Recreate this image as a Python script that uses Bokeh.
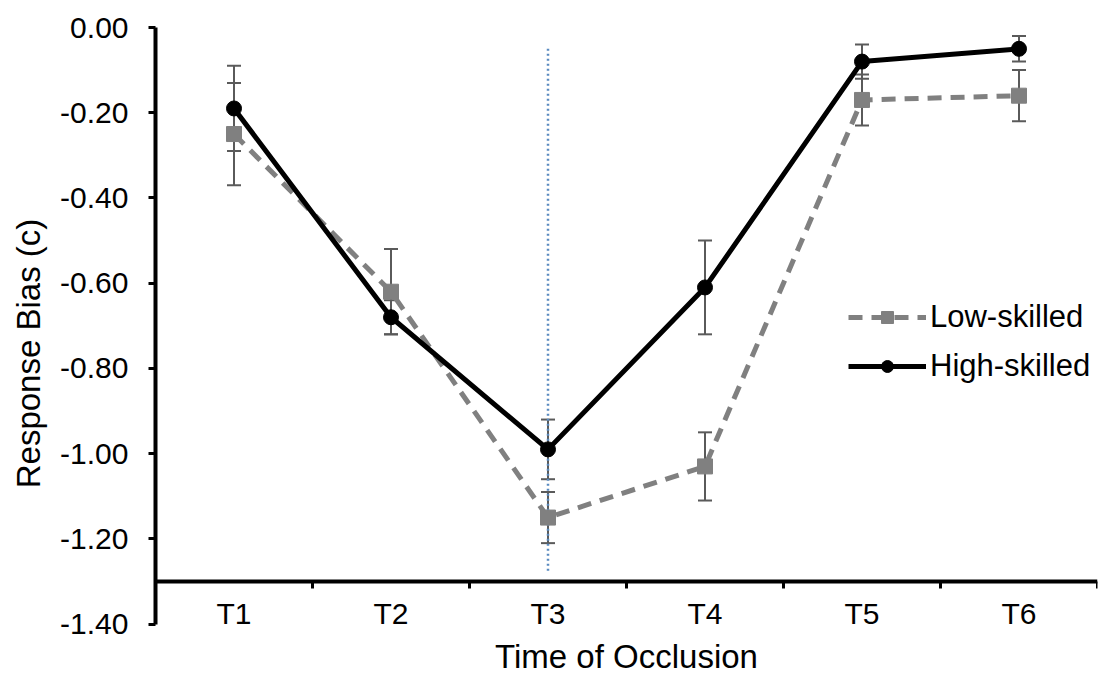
from bokeh.plotting import figure
from bokeh.models import (FixedTicker, NumeralTickFormatter, Whisker, ColumnDataSource,
                          Range1d, Legend, LegendItem, TeeHead)
from bokeh.embed import file_html
from bokeh.resources import INLINE

# ---- data ----
times = ["T1", "T2", "T3", "T4", "T5", "T6"]
low_skilled = [-0.25, -0.62, -1.15, -1.03, -0.17, -0.16]
low_err = [0.12, 0.10, 0.06, 0.08, 0.06, 0.06]
high_skilled = [-0.19, -0.68, -0.99, -0.61, -0.08, -0.05]
high_err = [0.10, 0.04, 0.07, 0.11, 0.04, 0.03]
y_ticks = [0.0, -0.2, -0.4, -0.6, -0.8, -1.0, -1.2, -1.4]
y_min, y_max = -1.4, 0.0
x_axis_crossing = -1.3
occlusion_marker = "T3"
marker_top, marker_bottom = -0.05, -1.28

FONT = "Liberation Sans"
TITLE_PX = 33
Y_FRAME_MIN = -1.53   # frame reaches below -1.4 so the x axis at -1.3 has room for its labels

# category centres on a numeric axis so ticks can sit between categories
xpos = [i + 0.5 for i in range(len(times))]
boundaries = [float(i) for i in range(len(times) + 1)]

low_src = ColumnDataSource(dict(x=xpos, y=low_skilled,
                                lo=[v - e for v, e in zip(low_skilled, low_err)],
                                hi=[v + e for v, e in zip(low_skilled, low_err)]))
high_src = ColumnDataSource(dict(x=xpos, y=high_skilled,
                                 lo=[v - e for v, e in zip(high_skilled, high_err)],
                                 hi=[v + e for v, e in zip(high_skilled, high_err)]))

p = figure(width=1100, height=679, output_backend="svg", toolbar_location=None,
           x_range=Range1d(0, len(times)), y_range=Range1d(Y_FRAME_MIN, y_max),
           min_border_left=155, min_border_right=3, min_border_top=27, min_border_bottom=0)
p.outline_line_color = None
p.xgrid.visible = False
p.ygrid.visible = False

# occlusion marker line
mx = xpos[times.index(occlusion_marker)]
p.segment(x0=[mx], y0=[marker_top], x1=[mx], y1=[marker_bottom],
          line_color="#5A8AC0", line_width=2.5, line_dash="2 3")

# error bars
for src in (low_src, high_src):
    w = Whisker(base="x", upper="hi", lower="lo", source=src,
                line_color="#5a5a5a", line_width=2,
                upper_head=TeeHead(size=14, line_color="#5a5a5a", line_width=2),
                lower_head=TeeHead(size=14, line_color="#5a5a5a", line_width=2))
    p.add_layout(w)

low_line = p.line("x", "y", source=low_src, line_color="#808080", line_width=5, line_dash="14 9")
low_pts = p.scatter("x", "y", source=low_src, marker="square", size=15,
                    fill_color="#808080", line_color="#808080")
high_line = p.line("x", "y", source=high_src, line_color="black", line_width=5)
high_pts = p.scatter("x", "y", source=high_src, marker="circle", size=15,
                     fill_color="black", line_color="black")

# y axis
ya = p.yaxis[0]
ya.bounds = (y_min, y_max)
ya.ticker = FixedTicker(ticks=y_ticks)
ya.formatter = NumeralTickFormatter(format="0.00")
ya.axis_line_width = 4
ya.axis_line_color = "black"
ya.major_tick_line_width = 3
ya.major_tick_out = 7
ya.major_tick_in = 0
ya.minor_tick_line_color = None
ya.major_label_text_font = FONT
ya.major_label_text_font_size = "30px"
ya.major_label_text_color = "black"
ya.major_label_standoff = 20
ya.axis_label = "Response Bias (c)"
ya.axis_label_text_font = FONT
ya.axis_label_text_font_style = "normal"
ya.axis_label_text_font_size = f"{TITLE_PX}px"
ya.axis_label_text_color = "black"
ya.axis_label_standoff = 10

# x axis, crossing the y axis at -1.3
xa = p.xaxis[0]
xa.fixed_location = x_axis_crossing
xa.ticker = FixedTicker(ticks=xpos, minor_ticks=boundaries)
xa.major_label_overrides = {x: t for x, t in zip(xpos, times)}
xa.axis_line_width = 4
xa.axis_line_color = "black"
xa.major_tick_line_color = None
xa.minor_tick_line_color = "black"
xa.minor_tick_line_width = 3
xa.minor_tick_out = 7
xa.minor_tick_in = 0
xa.major_label_text_font = FONT
xa.major_label_text_font_size = "30px"
xa.major_label_text_color = "black"
xa.major_label_standoff = 9
xa.axis_label = "Time of Occlusion"
xa.axis_label_text_font = FONT
xa.axis_label_text_font_style = "normal"
xa.axis_label_text_font_size = f"{TITLE_PX}px"
xa.axis_label_text_color = "black"
xa.axis_label_standoff = 4

legend = Legend(items=[LegendItem(label="Low-skilled", renderers=[low_line, low_pts]),
                       LegendItem(label="High-skilled", renderers=[high_line, high_pts])],
                location=(693, 295), border_line_color=None, background_fill_alpha=0,
                glyph_width=78, glyph_height=30, label_text_font=FONT,
                label_text_font_size="31px", label_text_color="black",
                spacing=13, padding=0, margin=0, label_standoff=4)
p.add_layout(legend)

open("out.html", "w").write(file_html(p, INLINE))
